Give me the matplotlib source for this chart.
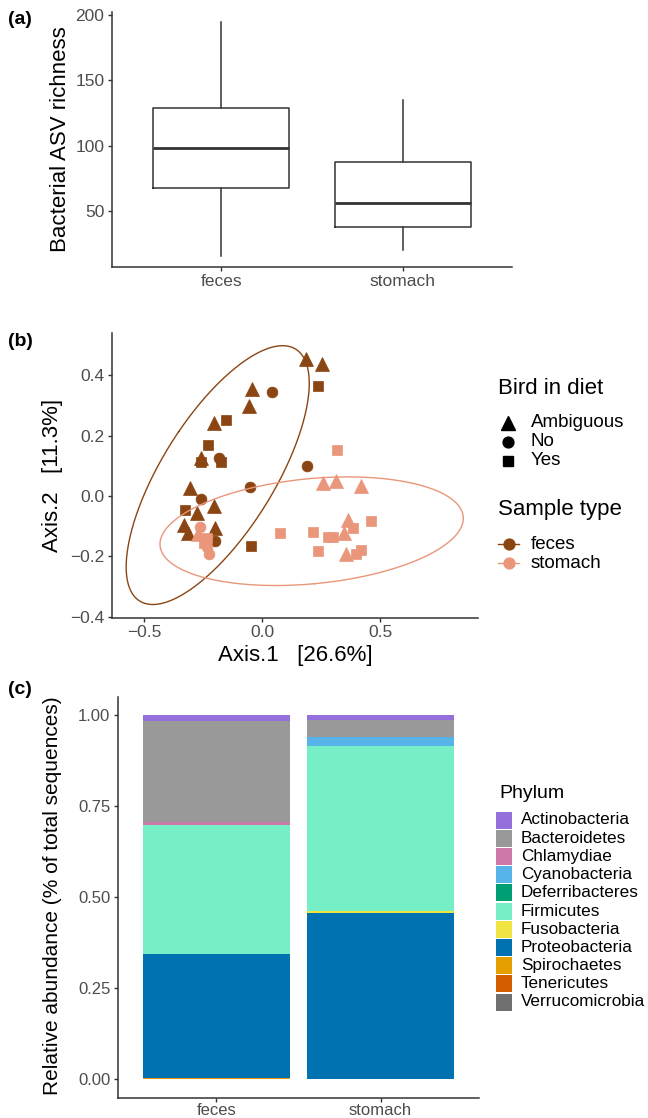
import numpy as np
import matplotlib
matplotlib.use('Agg')
import matplotlib.pyplot as plt
from matplotlib.lines import Line2D
from matplotlib.patches import Rectangle

plt.rcParams['font.family'] = ['Liberation Sans', 'DejaVu Sans']

W, H = 648, 1118

# (a) richness boxplot summaries
sample_types = ['feces', 'stomach']
rich_whislo = [15.8, 20.2]
rich_q1 = [67.9, 38.0]
rich_med = [98.0, 56.1]
rich_q3 = [129.1, 87.3]
rich_whishi = [194.4, 134.9]

# (b) PCoA points
feces_x = [0.186, 0.256, 0.239, -0.044, 0.042, -0.054, -0.203, -0.153, -0.229, -0.260,
           -0.258, -0.181, -0.175, 0.191, -0.051, -0.304, -0.260, -0.327, -0.277, -0.202,
           -0.333, -0.314, -0.199, -0.199, -0.046]
feces_y = [0.454, 0.437, 0.365, 0.354, 0.344, 0.298, 0.243, 0.251, 0.168, 0.125,
           0.112, 0.125, 0.114, 0.099, 0.031, 0.025, -0.011, -0.046, -0.056, -0.035,
           -0.097, -0.122, -0.107, -0.151, -0.167]
feces_diet = ['Ambiguous', 'Ambiguous', 'Yes', 'Ambiguous', 'No', 'Ambiguous', 'Ambiguous', 'Yes', 'Yes', 'Ambiguous',
              'Yes', 'No', 'Yes', 'No', 'No', 'Ambiguous', 'No', 'Yes', 'Ambiguous', 'Ambiguous',
              'Ambiguous', 'Ambiguous', 'Ambiguous', 'No', 'Yes']
stomach_x = [0.316, 0.260, 0.312, 0.419, 0.460, 0.366, 0.384, 0.302, 0.281, 0.349,
             0.076, 0.215, 0.239, 0.419, 0.397, 0.355, -0.263, -0.234, -0.234, -0.227,
             -0.270, -0.245]
stomach_y = [0.152, 0.042, 0.051, 0.033, -0.082, -0.080, -0.107, -0.135, -0.137, -0.124,
             -0.124, -0.120, -0.182, -0.179, -0.192, -0.192, -0.102, -0.140, -0.170, -0.193,
             -0.125, -0.155]
stomach_diet = ['Yes', 'Ambiguous', 'Ambiguous', 'Ambiguous', 'Yes', 'Ambiguous', 'Yes', 'Yes', 'Yes', 'Ambiguous',
                'Yes', 'Yes', 'Yes', 'Yes', 'Yes', 'Ambiguous', 'No', 'Yes', 'No', 'No',
                'Ambiguous', 'Yes']
ellipse_center = {'feces': (-0.188, 0.069), 'stomach': (0.21, -0.117)}
ellipse_shape = {'feces': [[0.1505, 0.118], [0.118, 0.184]],
                 'stomach': [[0.413, 0.0275], [0.0275, 0.0324]]}

# (c) phylum relative abundance
phyla = ['Actinobacteria', 'Bacteroidetes', 'Chlamydiae', 'Cyanobacteria', 'Deferribacteres',
         'Firmicutes', 'Fusobacteria', 'Proteobacteria', 'Spirochaetes', 'Tenericutes',
         'Verrucomicrobia']
feces_abund = [0.018, 0.275, 0.009, 0.0, 0.0, 0.355, 0.0, 0.339, 0.004, 0.0, 0.0]
stomach_abund = [0.015, 0.045, 0.0, 0.026, 0.0, 0.451, 0.006, 0.457, 0.0, 0.0, 0.0]

type_colors = {'feces': '#8B4513', 'stomach': '#E9967A'}
diet_markers = {'Ambiguous': ('^', 9.6), 'No': ('o', 7.8), 'Yes': ('s', 7.1)}
phylum_colors = ['#9370DB', '#999999', '#CC79A7', '#56B4E9', '#009E73', '#76EEC6',
                 '#F0E442', '#0072B2', '#E69F00', '#D55E00', '#707070']

tick_col = '#4D4D4D'
line_col = '#333333'


def px_axes(left, top, right, bottom):
    return [left / W, 1 - bottom / H, (right - left) / W, (bottom - top) / H]


def classic(ax, fs=12.5):
    for s in ['top', 'right']:
        ax.spines[s].set_visible(False)
    for s in ['left', 'bottom']:
        ax.spines[s].set_color(line_col)
        ax.spines[s].set_linewidth(1.1)
    ax.tick_params(colors=line_col, labelcolor=tick_col, labelsize=fs,
                   length=3, width=1.0, pad=2.5)


def fig_text(x, y, s, **kw):
    fig.text(x / W, 1 - y / H, s, **kw)


fig = plt.figure(figsize=(W / 100, H / 100), dpi=100)

# ---------------- (a)
ax1 = fig.add_axes(px_axes(112, 11.7, 512, 266.7))
stats = []
for i in range(len(sample_types)):
    stats.append({'whislo': rich_whislo[i], 'q1': rich_q1[i], 'med': rich_med[i],
                  'q3': rich_q3[i], 'whishi': rich_whishi[i], 'fliers': [],
                  'label': sample_types[i]})
ax1.bxp(stats, positions=[1, 2], widths=0.75, showfliers=False, showcaps=False,
        boxprops=dict(color=line_col, linewidth=1.1),
        whiskerprops=dict(color=line_col, linewidth=1.1),
        medianprops=dict(color=line_col, linewidth=2.0))
ax1.set_xlim(0.4, 2.6)
ax1.set_ylim(7.4, 202.5)
ax1.set_yticks([50, 100, 150, 200])
classic(ax1)
fig_text(60, 139, 'Bacterial ASV richness', rotation=90, ha='center', va='center', fontsize=16)
fig_text(8, 20, '(a)', fontweight='bold', fontsize=14, va='center')

# ---------------- (b)
ax2 = fig.add_axes(px_axes(112, 333.3, 478, 617.5))
groups = [('feces', feces_x, feces_y, feces_diet), ('stomach', stomach_x, stomach_y, stomach_diet)]
for name, xs, ys, ds in groups:
    for x, y, d in zip(xs, ys, ds):
        m, ms = diet_markers[d]
        ax2.plot(x, y, marker=m, ms=ms, color=type_colors[name], mec=type_colors[name],
                 mew=0.5, ls='none')
t = np.linspace(0, 2 * np.pi, 300)
for name in ['feces', 'stomach']:
    w, v = np.linalg.eigh(np.array(ellipse_shape[name]))
    R = v @ np.diag(np.sqrt(w))
    pts = (R @ np.vstack([np.cos(t), np.sin(t)])).T + np.array(ellipse_center[name])
    ax2.plot(pts[:, 0], pts[:, 1], color=type_colors[name], lw=1.0)
ax2.set_xlim(-0.636, 0.915)
ax2.set_ylim(-0.403, 0.539)
xt = [-0.5, 0.0, 0.5]
yt = [-0.4, -0.2, 0.0, 0.2, 0.4]
ax2.set_xticks(xt)
ax2.set_xticklabels([f'{v:.1f}'.replace('-', '\u2212') for v in xt])
ax2.set_yticks(yt)
ax2.set_yticklabels([f'{v:.1f}'.replace('-', '\u2212') for v in yt])
classic(ax2)
fig_text(53, 475, 'Axis.2   [11.3%]', rotation=90, ha='center', va='center', fontsize=16)
fig_text(295, 656, 'Axis.1   [26.6%]', ha='center', va='center', fontsize=16)
fig_text(8, 342, '(b)', fontweight='bold', fontsize=14, va='center')

# legend (b)
fig_text(498, 388, 'Bird in diet', fontsize=16, va='center')
for lab, yy in zip(['Ambiguous', 'No', 'Yes'], [422.7, 441.7, 460.7]):
    m, ms = diet_markers[lab]
    fig.add_artist(Line2D([508.3 / W], [1 - yy / H], marker=m, ms=ms, color='black', ls='none'))
    fig_text(530.7, yy, lab, fontsize=13.5, va='center')
fig_text(498, 510, 'Sample type', fontsize=16, va='center')
for lab, yy in zip(sample_types, [544, 563.3]):
    c = type_colors[lab]
    fig.add_artist(Line2D([498 / W, 519 / W], [1 - yy / H] * 2, color=c, lw=1.0))
    fig.add_artist(Line2D([508.5 / W], [1 - yy / H], marker='o', ms=7.8, color=c, ls='none'))
    fig_text(530.7, yy, lab, fontsize=13.5, va='center')

# ---------------- (c)
ax3 = fig.add_axes(px_axes(118, 696.7, 479, 1097.7))
xpos = np.arange(1, len(sample_types) + 1)
bottoms = np.zeros(len(sample_types))
for i in reversed(range(len(phyla))):
    vals = np.array([feces_abund[i], stomach_abund[i]])
    ax3.bar(xpos, vals, width=0.9, bottom=bottoms, color=phylum_colors[i], linewidth=0)
    bottoms += vals
ax3.set_xlim(0.4, 2.6)
ax3.set_ylim(-0.05, 1.05)
ax3.set_xticks(xpos)
ax3.set_xticklabels(sample_types)
ax3.set_yticks([0, 0.25, 0.5, 0.75, 1.0])
ax3.set_yticklabels(['0.00', '0.25', '0.50', '0.75', '1.00'])
classic(ax3, fs=12)
ax3.tick_params(axis='x', pad=0.5)
fig_text(53, 896, 'Relative abundance (% of total sequences)', rotation=90,
         ha='center', va='center', fontsize=15)
fig_text(8, 690, '(c)', fontweight='bold', fontsize=14, va='center')

# legend (c)
fig_text(499, 793, 'Phylum', fontsize=14, va='center')
for i, lab in enumerate(phyla):
    yy = 820 + i * 18.2
    fig.add_artist(Rectangle((496 / W, 1 - (yy + 8.5) / H), 16 / W, 17 / H,
                             transform=fig.transFigure, facecolor=phylum_colors[i],
                             edgecolor='none'))
    fig_text(521, yy, lab, fontsize=12.3, va='center')

fig.savefig('out.png', dpi=100)
